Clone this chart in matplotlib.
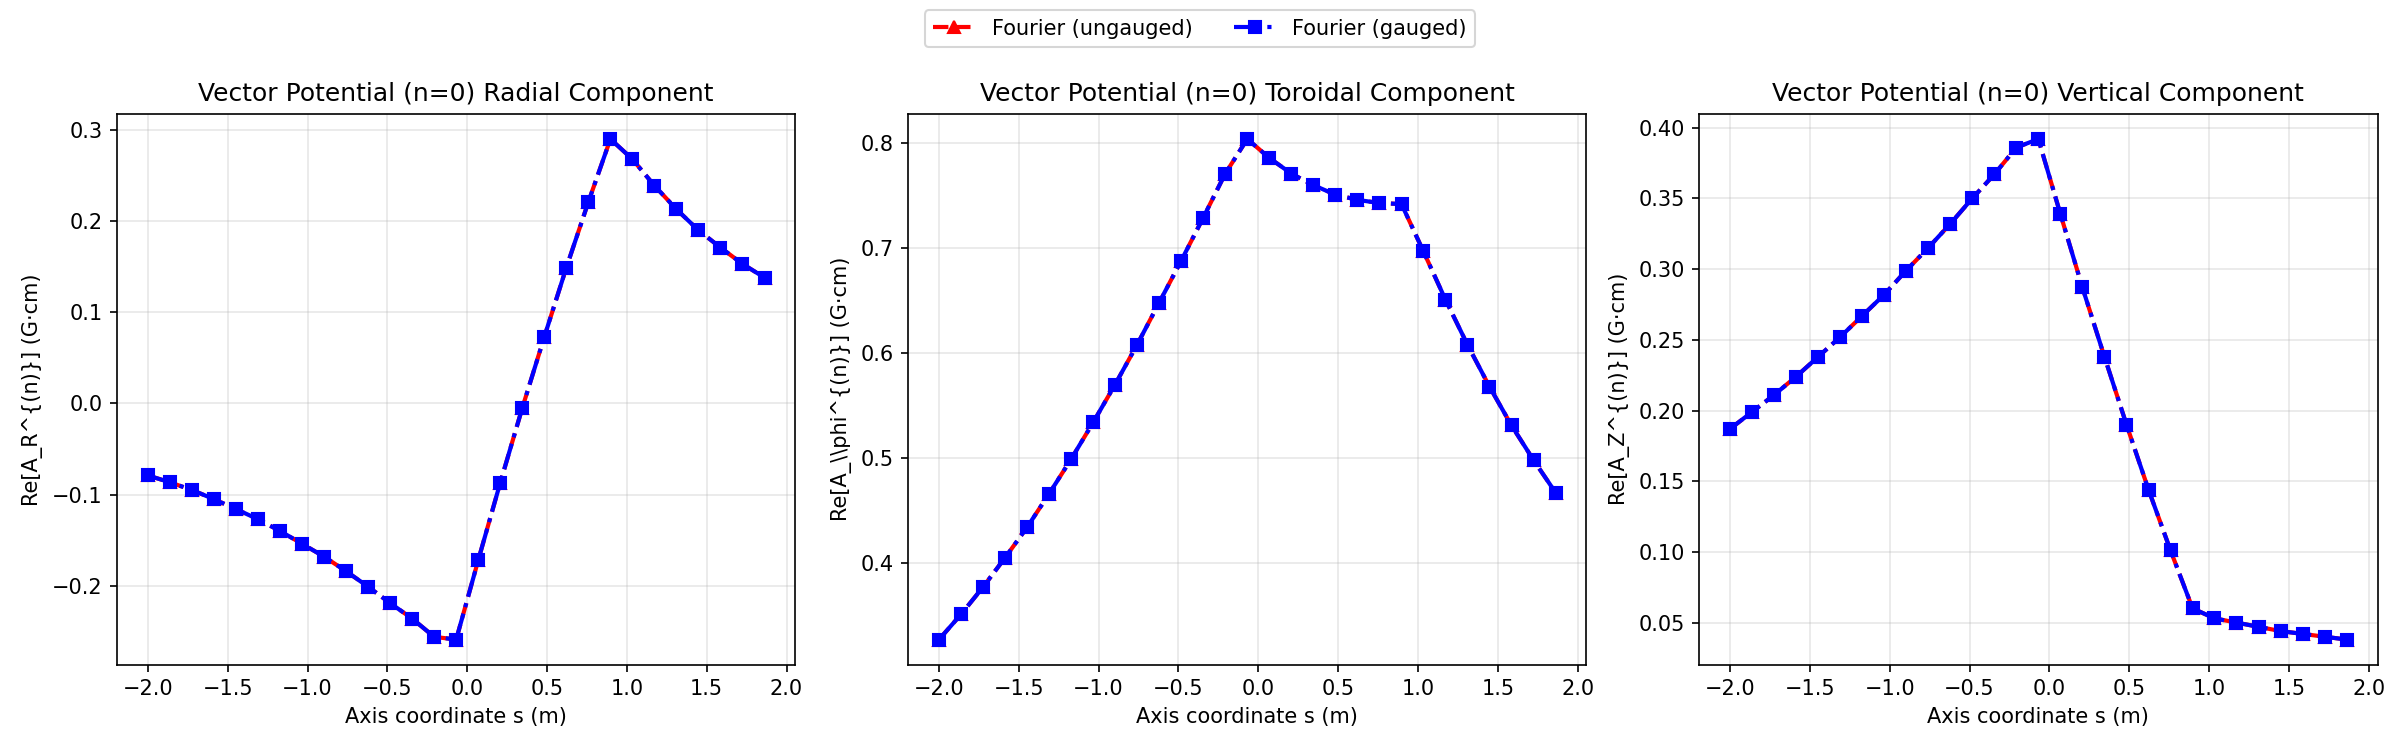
import matplotlib
matplotlib.use("Agg")
import matplotlib.pyplot as plt

# axis coordinate s (m)
s = [-2.000, -1.862, -1.724, -1.586, -1.448, -1.310, -1.172, -1.034, -0.897, -0.759,
     -0.621, -0.483, -0.345, -0.207, -0.069, 0.069, 0.207, 0.345, 0.483, 0.621,
     0.759, 0.897, 1.034, 1.172, 1.310, 1.448, 1.586, 1.724, 1.862]

a_r = [-0.079, -0.0865, -0.095, -0.105, -0.116, -0.127, -0.140, -0.154, -0.168, -0.184,
       -0.201, -0.219, -0.236, -0.256, -0.259, -0.172, -0.087, -0.005, 0.073, 0.149,
       0.221, 0.290, 0.268, 0.239, 0.213, 0.190, 0.171, 0.153, 0.138]

a_phi = [0.327, 0.351, 0.377, 0.405, 0.434, 0.466, 0.499, 0.534, 0.570, 0.608,
         0.648, 0.688, 0.729, 0.771, 0.804, 0.786, 0.771, 0.760, 0.751, 0.746,
         0.743, 0.742, 0.697, 0.651, 0.608, 0.568, 0.531, 0.498, 0.467]

a_z = [0.187, 0.199, 0.211, 0.224, 0.238, 0.252, 0.267, 0.282, 0.299, 0.315,
       0.332, 0.350, 0.367, 0.386, 0.392, 0.339, 0.287, 0.238, 0.190, 0.144,
       0.101, 0.060, 0.053, 0.050, 0.047, 0.044, 0.042, 0.040, 0.038]

panels = [
    ("Vector Potential (n=0) Radial Component", "Re[A_R^{(n)}] (G·cm)", a_r),
    ("Vector Potential (n=0) Toroidal Component", "Re[A_\\\\phi^{(n)}] (G·cm)", a_phi),
    ("Vector Potential (n=0) Vertical Component", "Re[A_Z^{(n)}] (G·cm)", a_z),
]

fig, axes = plt.subplots(1, 3, figsize=(16, 5), dpi=150)

for ax, (title, ylabel, vals) in zip(axes, panels):
    # gauged and ungauged agree for n=0, so the curves overlap
    ax.plot(s, vals, "r--", marker="^", lw=2, ms=6, label="Fourier (ungauged)")
    ax.plot(s, vals, "b-.", marker="s", lw=2, ms=6, label="Fourier (gauged)")
    ax.set_title(title, fontsize=12)
    ax.set_xlabel("Axis coordinate s (m)")
    ax.set_ylabel(ylabel)
    ax.grid(alpha=0.3)

handles, labels = axes[0].get_legend_handles_labels()
fig.legend(handles, labels, loc="upper center", ncol=2, bbox_to_anchor=(0.5, 1.0))

plt.tight_layout(rect=[0, 0, 1, 0.92])
plt.savefig("out.png", dpi=150)
